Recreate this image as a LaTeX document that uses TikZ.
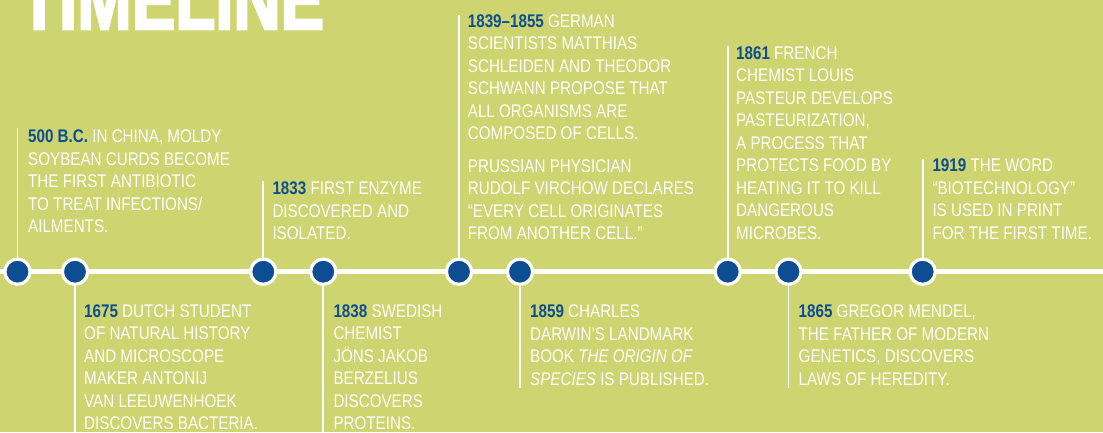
\documentclass[tikz,border=0pt]{standalone}
\usepackage{fontspec}
\setmainfont{Liberation Sans}[FakeStretch=0.83]
\newfontfamily\titlefont{Liberation Sans}[FakeStretch=0.76,FakeBold=2.5]
\definecolor{bgolive}{RGB}{206,212,112}
\definecolor{yearblue}{RGB}{13,78,146}
\newcommand{\yearlbl}[1]{\textcolor{yearblue}{\bfseries #1}}
\newcommand{\evlines}[1]{\begin{tabular}[t]{@{}l@{}}#1\end{tabular}}
\begin{document}
\begin{tikzpicture}[x=1pt,y=-1pt,
  tline/.style={draw=white, line width=5.3pt},
  vline/.style={draw=white, line width=1.8pt},
  dot/.style={circle, fill=yearblue, draw=white, line width=3.2pt, minimum size=25.2pt, inner sep=0pt},
  ev/.style={anchor=base west, inner sep=0pt, text=white, font=\fontsize{18.3}{22.5}\selectfont},
  ttl/.style={anchor=base west, inner sep=0pt, text=white, font=\titlefont\bfseries\fontsize{86}{86}\selectfont}]
\useasboundingbox (0,0) rectangle (1103,432);
\clip (0,0) rectangle (1103,432);
\fill[bgolive] (0,0) rectangle (1103,432);

\node[ttl] (title) at (19,29.3) {TIMELINE};

\coordinate (lstart) at (0,271.7);
\coordinate (lend) at (1103,271.7);
\draw[tline] (lstart) -- (lend);

\node[dot] (d1) at (17.5,271.7) {};
\node[dot] (d2) at (75,271.7) {};
\node[dot] (d3) at (263.3,271.7) {};
\node[dot] (d4) at (323.3,271.7) {};
\node[dot] (d5) at (459,271.7) {};
\node[dot] (d6) at (520,271.7) {};
\node[dot] (d7) at (727.7,271.7) {};
\node[dot] (d8) at (788.5,271.7) {};
\node[dot] (d9) at (922.7,271.7) {};

\coordinate (e1) at (17.5,128);
\coordinate (e2) at (75,432);
\coordinate (e3) at (263.3,181);
\coordinate (e4) at (323.3,432);
\coordinate (e5) at (459,14.5);
\coordinate (e6) at (520,388);
\coordinate (e7) at (727.7,45.5);
\coordinate (e8) at (788.5,388);
\coordinate (e9) at (922.7,158.5);

\foreach \i in {1,...,9} {\draw[vline] (d\i) -- (e\i);}

\node[ev] (n1) at (28,142.7) {\evlines{\yearlbl{500 B.C.} IN CHINA, MOLDY\\ SOYBEAN CURDS BECOME\\ THE FIRST ANTIBIOTIC\\ TO TREAT INFECTIONS/\\ AILMENTS.}};
\node[ev] (n2) at (84,317.3) {\evlines{\yearlbl{1675} DUTCH STUDENT\\ OF NATURAL HISTORY\\ AND MICROSCOPE\\ MAKER ANTONIJ\\ VAN LEEUWENHOEK\\ DISCOVERS BACTERIA.}};
\node[ev] (n3) at (272.3,194.8) {\evlines{\yearlbl{1833} FIRST ENZYME\\ DISCOVERED AND\\ ISOLATED.}};
\node[ev] (n4) at (333.3,317.3) {\evlines{\yearlbl{1838} SWEDISH\\ CHEMIST\\ JÖNS JAKOB\\ BERZELIUS\\ DISCOVERS\\ PROTEINS.}};
\node[ev] (n5) at (467.7,27.3) {\evlines{\yearlbl{1839–1855} GERMAN\\ SCIENTISTS MATTHIAS\\ SCHLEIDEN AND THEODOR\\ SCHWANN PROPOSE THAT\\ ALL ORGANISMS ARE\\ COMPOSED OF CELLS.\\[9.8pt] PRUSSIAN PHYSICIAN\\ RUDOLF VIRCHOW DECLARES\\ “EVERY CELL ORIGINATES\\ FROM ANOTHER CELL.”}};
\node[ev] (n6) at (530,317.5) {\evlines{\yearlbl{1859} CHARLES\\ DARWIN’S LANDMARK\\ BOOK \textit{THE ORIGIN OF}\\ \textit{SPECIES} IS PUBLISHED.}};
\node[ev] (n7) at (736,59.3) {\evlines{\yearlbl{1861} FRENCH\\ CHEMIST LOUIS\\ PASTEUR DEVELOPS\\ PASTEURIZATION,\\ A PROCESS THAT\\ PROTECTS FOOD BY\\ HEATING IT TO KILL\\ DANGEROUS\\ MICROBES.}};
\node[ev] (n8) at (798.5,317.5) {\evlines{\yearlbl{1865} GREGOR MENDEL,\\ THE FATHER OF MODERN\\ GENETICS, DISCOVERS\\ LAWS OF HEREDITY.}};
\node[ev] (n9) at (932.3,171.7) {\evlines{\yearlbl{1919} THE WORD\\ “BIOTECHNOLOGY”\\ IS USED IN PRINT\\ FOR THE FIRST TIME.}};
\end{tikzpicture}
\end{document}
